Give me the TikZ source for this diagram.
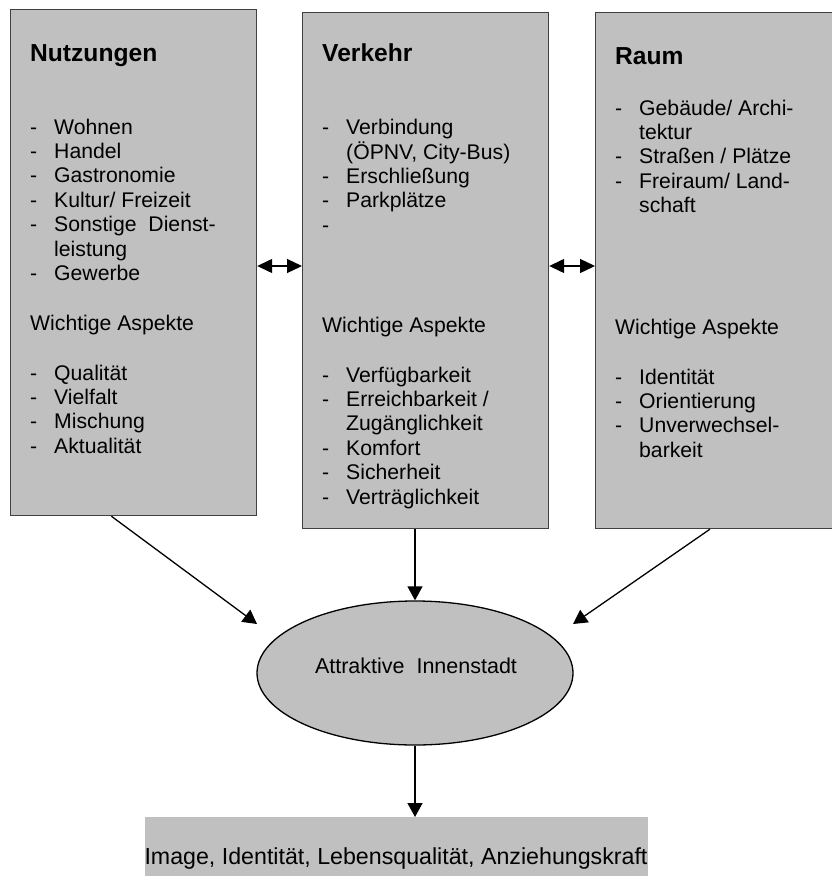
\documentclass[tikz,border=0pt]{standalone}
\usepackage{fontspec}
\setmainfont{Liberation Sans}
\usetikzlibrary{arrows.meta,shapes.geometric,calc}
\definecolor{kastengrau}{HTML}{C0C0C0}
\definecolor{randgrau}{HTML}{404040}
\newcommand{\grund}{\fontsize{21.2}{24.4}\selectfont}
\newcommand{\liste}[1]{\begin{tabular}[t]{@{}p{24pt}@{}l@{}}#1\end{tabular}}

\begin{document}
\begin{tikzpicture}[x=1pt, y=-1pt]
    \tikzset{kasten/.style={draw=randgrau, line width=1.2pt, fill=kastengrau, anchor=north west, inner sep=0pt},
        titel/.style={anchor=base west, inner sep=0pt, font=\fontsize{24.6}{28}\selectfont\bfseries},
        eintrag/.style={anchor=base west, inner sep=0pt, font=\grund},
        pfeil/.style={-{Triangle[length=14pt,width=15pt]}, line width=1.3pt},
        doppelpfeil/.style={{Triangle[length=15pt,width=14pt]}-{Triangle[length=15pt,width=14pt]}, line width=1.3pt}}
    \useasboundingbox (0,0) rectangle (832,883);

    % Kästen
    \node[kasten, minimum width=246pt, minimum height=506pt] (nutz) at (10,9) {};
    \node[kasten, minimum width=246pt, minimum height=516pt] (verk) at (302,12) {};
    \node[kasten, minimum width=260pt, minimum height=516pt] (raum) at (595,12) {};

    % Nutzungen
    \node[titel] (nutzT) at (30,62) {Nutzungen};
    \node[eintrag] (nutzL) at (30,134) {\liste{- & Wohnen\\ - & Handel\\ - & Gastronomie\\ - & Kultur/ Freizeit\\ - & Sonstige\ \ Dienst-\\ & leistung\\ - & Gewerbe}};
    \node[eintrag] (nutzW) at (30,330) {Wichtige Aspekte};
    \node[eintrag] (nutzA) at (30,380) {\liste{- & Qualität\\ - & Vielfalt\\ - & Mischung\\ - & Aktualität}};

    % Verkehr
    \node[titel] (verkT) at (322,62) {Verkehr};
    \node[eintrag] (verkL) at (322,134) {\liste{- & Verbindung\\ & (ÖPNV, City-Bus)\\ - & Erschließung\\ - & Parkplätze\\ - & }};
    \node[eintrag] (verkW) at (322,332) {Wichtige Aspekte};
    \node[eintrag] (verkA) at (322,382) {\liste{- & Verfügbarkeit\\ - & Erreichbarkeit /\\ & Zugänglichkeit\\ - & Komfort\\ - & Sicherheit\\ - & Verträglichkeit}};

    % Raum
    \node[titel] (raumT) at (615,65) {Raum};
    \node[eintrag] (raumL) at (615,115) {\liste{- & Gebäude/ Archi-\\ & tektur\\ - & Straßen / Plätze\\ - & Freiraum/ Land-\\ & schaft}};
    \node[eintrag] (raumW) at (615,334) {Wichtige Aspekte};
    \node[eintrag] (raumA) at (615,384) {\liste{- & Identität\\ - & Orientierung\\ - & Unverwechsel-\\ & barkeit}};

    % Ziel und Ergebnis
    \node[ellipse, draw, line width=1.3pt, fill=kastengrau, minimum width=316pt, minimum height=144pt, inner sep=0pt] (ziel) at (415,673) {};
    \node[inner sep=0pt, font=\fontsize{21.5}{25}\selectfont] (zielT) at (416,666) {Attraktive\ \ Innenstadt};
    \node[fill=kastengrau, minimum width=503pt, minimum height=59pt, anchor=north west, inner sep=0pt] (bild) at (145,817) {};
    \node[anchor=base, inner sep=0pt, font=\fontsize{23.2}{28}\selectfont] (bildT) at (396,864) {Image, Identität, Lebensqualität, Anziehungskraft};

    % Pfeile
    \coordinate (mitte) at (0,266);
    \coordinate (linksZiel) at (257,624);
    \coordinate (rechtsZiel) at (573,624);
    \draw[doppelpfeil] (nutz.east |- mitte) -- (verk.west |- mitte);
    \draw[doppelpfeil] (verk.east |- mitte) -- (raum.west |- mitte);
    \draw[pfeil] ($(nutz.south west)!0.41!(nutz.south east)$) -- (linksZiel);
    \draw[pfeil] ($(raum.south west)!0.44!(raum.south east)$) -- (rechtsZiel);
    \draw[pfeil] (ziel.north |- verk.south) -- (ziel.north);
    \draw[pfeil] (ziel.south) -- (ziel.south |- bild.north);
\end{tikzpicture}
\end{document}
